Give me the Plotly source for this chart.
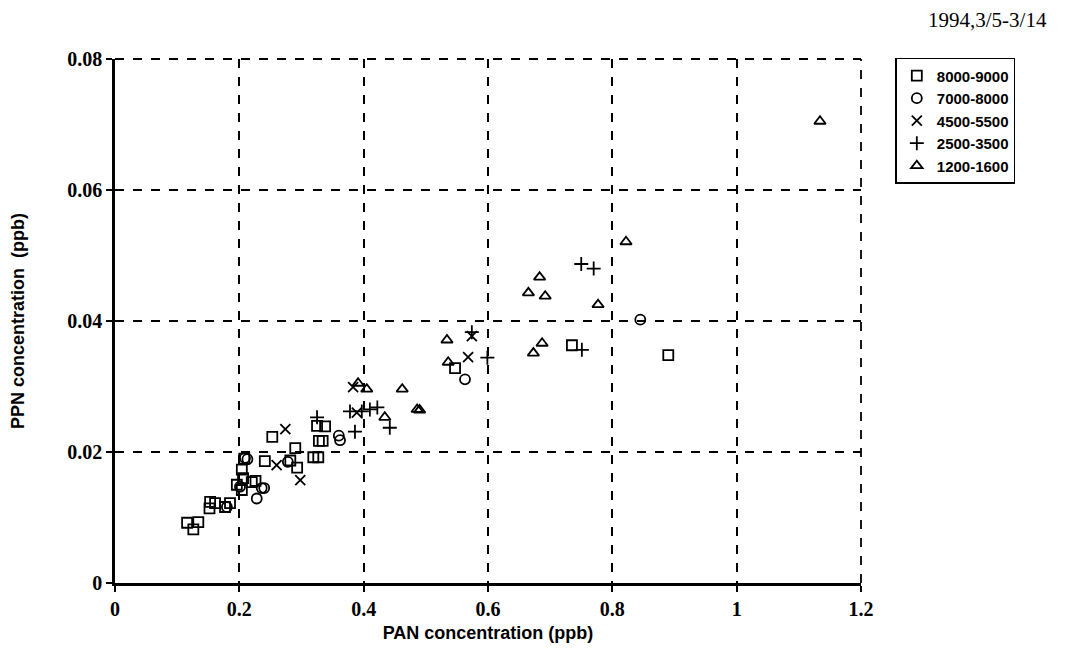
import plotly.graph_objects as go

# Data (PAN, PPN in ppb)
sq_x = [0.116, 0.126, 0.134, 0.152, 0.153, 0.161, 0.177, 0.185, 0.196, 0.204, 0.204, 0.206,
        0.220, 0.226, 0.208, 0.241, 0.253, 0.282, 0.290, 0.293, 0.319, 0.327, 0.328, 0.334,
        0.325, 0.338, 0.547, 0.735, 0.890]
sq_y = [0.0092, 0.0082, 0.0093, 0.0114, 0.0124, 0.0122, 0.0116, 0.0122, 0.0150, 0.0142, 0.0173, 0.0160,
        0.0154, 0.0156, 0.0190, 0.0186, 0.0223, 0.0187, 0.0206, 0.0176, 0.0192, 0.0192, 0.0217, 0.0217,
        0.0240, 0.0239, 0.0328, 0.0363, 0.0348]

ci_x = [0.180, 0.201, 0.209, 0.213, 0.228, 0.236, 0.240, 0.278, 0.360, 0.362, 0.563, 0.845]
ci_y = [0.0116, 0.0147, 0.0191, 0.0189, 0.0129, 0.0145, 0.0145, 0.0185, 0.0225, 0.0218, 0.0311, 0.0402]

xx_x = [0.260, 0.274, 0.298, 0.383, 0.389, 0.568, 0.574]
xx_y = [0.0180, 0.0235, 0.0157, 0.0299, 0.0260, 0.0345, 0.0377]

pl_x = [0.325, 0.378, 0.397, 0.386, 0.410, 0.422, 0.442, 0.574, 0.599, 0.751, 0.750, 0.770]
pl_y = [0.0253, 0.0262, 0.0262, 0.0231, 0.0265, 0.0268, 0.0237, 0.0383, 0.0344, 0.0356, 0.0487, 0.0480]

tr_x = [0.391, 0.405, 0.462, 0.434, 0.486, 0.490, 0.534, 0.536, 0.665, 0.683, 0.692, 0.673,
        0.687, 0.777, 0.822, 1.134]
tr_y = [0.0305, 0.0296, 0.0296, 0.0253, 0.0265, 0.0264, 0.0371, 0.0337, 0.0443, 0.0467, 0.0438, 0.0351,
        0.0366, 0.0425, 0.0521, 0.0705]

series = [
    ("8000-9000", sq_x, sq_y, "square-open"),
    ("7000-8000", ci_x, ci_y, "circle-open"),
    ("4500-5500", xx_x, xx_y, "x-thin-open"),
    ("2500-3500", pl_x, pl_y, "cross-thin-open"),
    ("1200-1600", tr_x, tr_y, "triangle-up-open"),
]

x_ticks = [0, 0.2, 0.4, 0.6, 0.8, 1, 1.2]
x_labels = ["0", "0.2", "0.4", "0.6", "0.8", "1", "1.2"]
y_ticks = [0, 0.02, 0.04, 0.06, 0.08]
y_labels = ["0", "0.02", "0.04", "0.06", "0.08"]

fig = go.Figure()
for name, xs, ys, sym in series:
    fig.add_trace(go.Scatter(
        x=xs, y=ys, mode="markers", name=name,
        marker=dict(symbol=sym, size=10, color="black", line=dict(color="black", width=1.8)),
    ))

tick_font = dict(family="Liberation Serif", size=20, color="black")
grid = dict(color="black", width=1.8, dash="dash")
fig.update_layout(
    width=1059, height=649,
    margin=dict(l=107, r=206, t=51, b=74),
    paper_bgcolor="white", plot_bgcolor="white",
    showlegend=True,
    legend=dict(x=1.046, y=1.002, xanchor="left", yanchor="top",
                bordercolor="black", borderwidth=1.5, bgcolor="white",
                font=dict(family="Liberation Sans", size=15, color="black", weight="bold"),
                itemwidth=30, tracegroupgap=0),
    xaxis=dict(range=[0, 1.2], tickvals=x_ticks, ticktext=[f"<b>{t}</b>" for t in x_labels],
               showgrid=True, gridcolor="black", griddash="dash", gridwidth=1.8,
               showline=True, linecolor="black", linewidth=2.5,
               ticks="outside", ticklen=6, tickwidth=2, tickcolor="black",
               zeroline=False, tickfont=tick_font, automargin=False,
               title=dict(text="<b>PAN concentration (ppb)</b>",
                          font=dict(family="Liberation Sans", size=18, color="black"),
                          standoff=8)),
    yaxis=dict(range=[0, 0.08], tickvals=y_ticks, ticktext=[f"<b>{t}</b>" for t in y_labels],
               showgrid=True, gridcolor="black", griddash="dash", gridwidth=1.8,
               showline=True, linecolor="black", linewidth=2.5,
               ticks="outside", ticklen=6, tickwidth=2, tickcolor="black",
               zeroline=False, tickfont=tick_font, automargin=False,
               title=dict(text="<b>PPN concentration  (ppb)</b>",
                          font=dict(family="Liberation Sans", size=18, color="black"),
                          standoff=38)),
    shapes=[
        dict(type="line", xref="x domain", yref="y domain", x0=1, x1=1, y0=0, y1=1, line=grid, layer="below"),
        dict(type="line", xref="x domain", yref="y domain", x0=0, x1=1, y0=1, y1=1, line=grid, layer="below"),
    ],
    annotations=[dict(text="1994,3/5-3/14", xref="paper", yref="paper",
                      x=1.252, y=1.075, xanchor="right", yanchor="middle",
                      showarrow=False,
                      font=dict(family="Liberation Serif", size=21, color="black"))],
)

fig.write_html("out.html")
